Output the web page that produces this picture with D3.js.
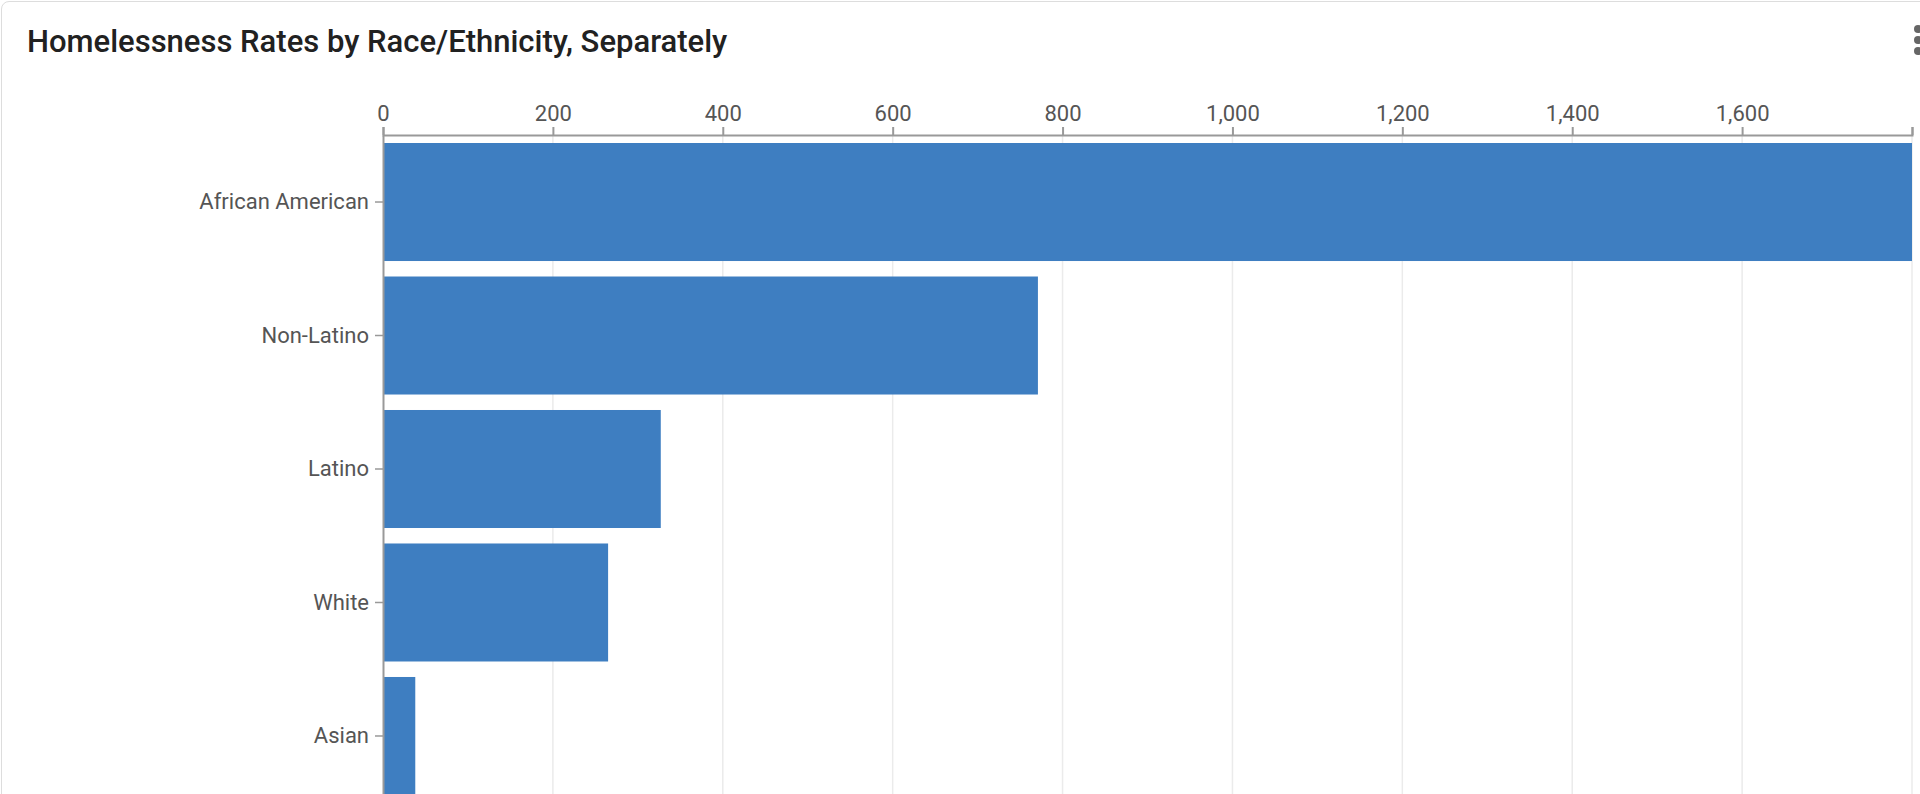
<!DOCTYPE html>
<html lang="en">
<head>
<meta charset="UTF-8">
<title>Homelessness Rates</title>
<script src="https://cdnjs.cloudflare.com/ajax/libs/d3/7.8.5/d3.min.js"></script>
<style>
  body { margin: 0; background: #fff; font-family: Roboto, sans-serif; overflow: hidden; }
  .card { position: absolute; left: 1px; top: 1px; width: 1940px; height: 820px; border: 1px solid #ddd; border-radius: 8px; }
  .tick text { font-family: Roboto, sans-serif; }
</style>
</head>
<body>
<div class="card"></div>
<script>
  const categories = ['African American', 'Non-Latino', 'Latino', 'White', 'Asian'];
  const values = [1800, 771, 327, 265, 38];
  const tickValues = [0, 200, 400, 600, 800, 1000, 1200, 1400, 1600, 1800];

  const w = 1920, h = 794;
  const plotLeft = 383, plotRight = 1912, plotTop = 135;

  const svg = d3.select('body').append('svg')
    .attr('width', w).attr('height', h)
    .style('position', 'absolute').style('left', 0).style('top', 0);

  svg.append('text')
    .attr('x', 27).attr('y', 52)
    .attr('font-size', 31).attr('font-weight', 500)
    .attr('fill', '#212121')
    .text('Homelessness Rates by Race/Ethnicity, Separately');

  // menu dots
  svg.selectAll('circle.dot').data([0, 1, 2]).enter().append('circle')
    .attr('cx', 1918).attr('cy', d => 29 + d * 11).attr('r', 4).attr('fill', '#666');

  const x = d3.scaleLinear().domain([0, 1800]).range([plotLeft, plotRight]);
  const y = d3.scaleBand().domain(categories)
    .range([plotTop, plotTop + 668]).paddingInner(0.116).paddingOuter(0.06);

  // grid
  svg.append('g').selectAll('line').data(tickValues.slice(1)).enter().append('line')
    .attr('x1', d => x(d)).attr('x2', d => x(d))
    .attr('y1', plotTop).attr('y2', h)
    .attr('stroke', '#ebebeb').attr('stroke-width', 1.5);

  svg.append('g').selectAll('rect').data(values).enter().append('rect')
    .attr('x', x(0))
    .attr('y', (d, i) => y(categories[i]))
    .attr('width', d => x(d) - x(0))
    .attr('height', y.bandwidth())
    .attr('fill', '#3e7ec1');

  const xAxis = d3.axisTop(x).tickValues(tickValues).tickSize(8).tickSizeOuter(8).tickPadding(6)
    .tickFormat(d => d === 1800 ? '' : d3.format(',')(d));
  const gx = svg.append('g').attr('transform', `translate(0,${plotTop})`).call(xAxis);
  gx.selectAll('text').attr('font-size', 22).attr('fill', '#555');
  gx.selectAll('line, path').attr('stroke', '#999').attr('stroke-width', 2);

  const yAxis = d3.axisLeft(y).tickSize(8).tickSizeOuter(0).tickPadding(6);
  const gy = svg.append('g').attr('transform', `translate(${plotLeft},0)`).call(yAxis);
  gy.selectAll('text').attr('font-size', 22).attr('fill', '#555');
  gy.selectAll('line').attr('stroke', '#999').attr('stroke-width', 1.5);
  gy.select('path').attr('stroke', '#999').attr('stroke-width', 2);
</script>
</body>
</html>
